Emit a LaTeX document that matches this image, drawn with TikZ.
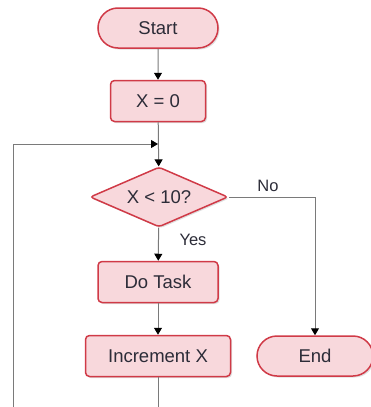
\documentclass[tikz,border=0pt]{standalone}
\usepackage{fontspec}
\setmainfont{Liberation Sans}
\usetikzlibrary{shapes.geometric,shapes.misc,arrows.meta,shadows}
\definecolor{bord}{HTML}{D03A47}
\definecolor{fillc}{HTML}{F8D8DC}
\definecolor{linec}{HTML}{7A7A7A}
\definecolor{txt}{HTML}{2C2C38}
\tikzset{
  base/.style={draw=bord, line width=1.5pt, fill=fillc, text=txt,
    font=\fontsize{18.5}{20}\selectfont, inner sep=0pt,
    drop shadow={shadow xshift=1.5pt, shadow yshift=-1.5pt, opacity=0.25}},
  term/.style={base, rounded rectangle, minimum width=#1, minimum height=40pt},
  proc/.style={base, rectangle, rounded corners=4pt, minimum width=#1, minimum height=41pt},
  dec/.style={base, diamond, minimum width=138pt, minimum height=60pt, aspect=2.3, rounded corners=3pt},
  conn/.style={draw=linec, line width=1pt},
  arr/.style={conn, -{Triangle[length=7pt,width=8pt,color=black]}},
  lbl/.style={text=txt, font=\fontsize{16.5}{18}\selectfont, inner sep=0pt}
}
\begin{document}
\begin{tikzpicture}[x=1pt,y=-1pt]
\useasboundingbox (0,0) rectangle (371,407);
\node[term=120pt] (start) at (158,28) {Start};
\node[proc=95pt] (x0) at (158,101) {X = 0};
\node[dec] (cond) at (159,197) {X < 10?};
\node[proc=120pt] (task) at (158,282) {Do Task};
\node[proc=145pt] (inc) at (158,356) {Increment X};
\node[term=116pt] (endn) at (315,356) {End};
\coordinate (loopbot) at (13,407);
\coordinate (loopcorner) at (13,144);
\coordinate (join) at (158,144);
\coordinate (incbot) at (158,407);
\node[lbl] (yes) at (193,240) {Yes};
\node[lbl] (no) at (268,186) {No};
\draw[arr] (start) -- (x0);
\draw[arr] (x0) -- (cond);
\draw[arr] (loopbot) -- (loopcorner) -- (join);
\draw[arr] (cond) -- (task);
\draw[arr] (task) -- (inc);
\draw[conn] (inc) -- (incbot);
\draw[arr] (cond.east) -| (endn.north);
\end{tikzpicture}
\end{document}
